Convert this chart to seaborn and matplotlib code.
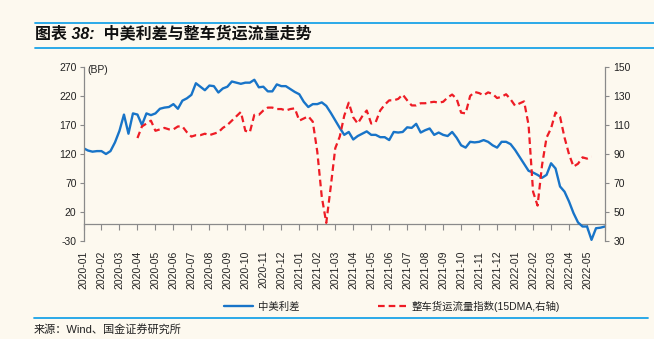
import numpy as np
import pandas as pd
import matplotlib
matplotlib.use('Agg')
import matplotlib.pyplot as plt
import seaborn as sns
from matplotlib.lines import Line2D

# ---------------- data ----------------
month_labels = ['2020-01', '2020-02', '2020-03', '2020-04', '2020-05', '2020-06',
                '2020-07', '2020-08', '2020-09', '2020-10', '2020-11', '2020-12',
                '2021-01', '2021-02', '2021-03', '2021-04', '2021-05', '2021-06',
                '2021-07', '2021-08', '2021-09', '2021-10', '2021-11', '2021-12',
                '2022-01', '2022-02', '2022-03', '2022-04', '2022-05']

# China-US spread (BP), sampled every quarter of a label interval
spread_bp = [130, 126, 124, 125, 125, 120, 125, 140, 160, 188, 155, 190, 188, 170, 190,
             187, 190, 198, 200, 201, 206, 198, 212, 216, 222, 242, 236, 230, 238,
             237, 226, 233, 236, 245, 243, 241, 243, 243, 248, 235, 236, 228, 228, 240,
             237, 237, 232, 227, 223, 210, 201, 206, 206, 209, 203, 191, 178, 165,
             153, 158, 145, 151, 155, 159, 153, 153, 149, 149, 144, 158, 157, 158, 166,
             165, 172, 157, 161, 164, 153, 157, 153, 151, 158, 148, 135, 131, 141,
             140, 141, 144, 141, 135, 131, 141, 141, 137, 127, 115, 103, 91, 88, 84,
             79, 84, 104, 95, 64, 55, 38, 18, 2, -5, -5, -28, -8, -7, -5]

# Truck freight flow index (15DMA, right axis), starts at sample 12
freight_start = 12
freight_idx = [101, 109, 111, 113, 106, 107, 108, 107, 107, 109, 109, 105, 102, 103, 103, 104, 103,
               104, 105, 108, 110, 113, 116, 119, 106, 105, 117, 117, 120, 122, 122, 121, 121,
               120, 121, 121.5, 113, 114.5, 116, 112.3, 91.6, 60.5, 42.5, 67.5, 94, 102,
               116.4, 125.4, 115.3, 111, 116, 120, 111, 112, 120, 124, 127, 127, 128, 131,
               127, 123.5, 123.5, 125, 125, 125.6, 126, 125.4, 126, 129, 131, 128, 118.5,
               118, 130,
               132.8, 132, 130.5, 132.5, 131.4, 128.6, 129.5, 131.2, 127.7, 123.3, 124.9,
               126.3, 110, 64, 54.4, 82.4, 101.3, 107.7, 118.7, 115.7, 101.3, 89.8, 81.3,
               83.3, 87.7, 86.8, 88.2]

series_names = ['中美利差', '整车货运流量指数(15DMA,右轴)']
step = 0.25

# ---------------- style ----------------
sns.set_theme(style='white')
FONTS = ['Liberation Sans', 'Noto Sans CJK SC']
plt.rcParams['font.family'] = FONTS
plt.rcParams['axes.unicode_minus'] = False
BG = '#FDF9EF'
GRAY = '#8A8A8A'
TXT = '#222222'
BLUE = '#1874C8'
RED = '#EE1C25'
RULE = '#1AA3E8'

fig = plt.figure(figsize=(6.54, 3.39), dpi=100, facecolor=BG)
W, H = 654, 339
ax = fig.add_axes([83.5 / W, 1 - 241 / H, 521.5 / W, 174 / H])
ax.set_facecolor(BG)

df1 = pd.DataFrame({'x': np.arange(len(spread_bp)) * step, 'v': spread_bp})
sns.lineplot(data=df1, x='x', y='v', ax=ax, color=BLUE, linewidth=1.7)

ax2 = ax.twinx()
df2 = pd.DataFrame({'x': (np.arange(len(freight_idx)) + freight_start) * step, 'v': freight_idx})
sns.lineplot(data=df2, x='x', y='v', ax=ax2, color=RED, linewidth=1.6,
             linestyle=(0, (3, 1.8)))

ax.set_xlim(0, 29)
ax2.set_xlim(0, 29)
ax.set_ylim(-30, 270)
ax.set_yticks(range(-30, 271, 50))
ax2.set_ylim(30, 150)
ax2.set_yticks(range(30, 151, 20))
ax.set_xlabel('')
ax.set_ylabel('')
ax2.set_ylabel('')
ax2.set_xlabel('')

# x labels at bottom, no ticks there
ax.set_xticks(range(len(month_labels)))
ax.set_xticklabels(month_labels, rotation=90, fontsize=7.5, color=TXT)
ax.tick_params(axis='x', bottom=True, length=0, pad=7)

# zero line axis with tick marks
sec = ax.secondary_xaxis(0.1)
sec.set_xticks(range(30))
sec.tick_params(axis='x', bottom=True, length=4, width=0.8, color=GRAY,
                labelbottom=False, direction='out')
sec.spines['bottom'].set_color(GRAY)
sec.spines['bottom'].set_linewidth(0.9)
for s in ['top', 'left', 'right']:
    sec.spines[s].set_visible(False)

for s in ['top', 'right', 'bottom']:
    ax.spines[s].set_visible(False)
ax.spines['left'].set_color(GRAY)
ax.spines['left'].set_linewidth(0.9)
ax.tick_params(axis='y', left=True, length=3, width=0.8, color=GRAY,
               labelsize=7.5, labelcolor=TXT, pad=2, direction='out')

for s in ['top', 'left', 'bottom']:
    ax2.spines[s].set_visible(False)
ax2.spines['right'].set_color(GRAY)
ax2.spines['right'].set_linewidth(0.9)
ax2.tick_params(axis='y', right=True, length=3, width=0.8, color=GRAY,
                labelsize=7.5, labelcolor=TXT, pad=3, direction='out')
ax2.set_facecolor('none')

fig.text(87 / W, 1 - 70 / H, '(BP)', fontsize=7.5, color=TXT, va='center')

# legend
handles = [ax.lines[0], ax2.lines[0]]
fig.legend(handles=handles, labels=series_names, loc='center',
           bbox_to_anchor=(392 / W, 1 - 306 / H), ncol=2, frameon=False,
           fontsize=7.5, handlelength=2.8, columnspacing=7.5, handletextpad=0.5,
           labelcolor=TXT)

# title and rules
fig.text(35 / W, 1 - 33 / H, '图表 38:  中美利差与整车货运流量走势', fontsize=11.5,
         fontweight='bold', style='italic', color='#111111', va='center', family=FONTS)
fig.add_artist(Line2D([35 / W, 1], [1 - 22.5 / H] * 2, color=RULE, lw=1.3,
                      transform=fig.transFigure))
fig.add_artist(Line2D([35 / W, 1], [1 - 48 / H] * 2, color=RULE, lw=1.3,
                      transform=fig.transFigure))
fig.add_artist(Line2D([34 / W, 648 / W], [1 - 317.5 / H] * 2, color=RULE, lw=1.3,
                      transform=fig.transFigure))
fig.text(34 / W, 1 - 329 / H, '来源：Wind、国金证券研究所', fontsize=8, color=TXT,
         va='center', family=FONTS)

fig.savefig('out.png', dpi=100, facecolor=BG)
